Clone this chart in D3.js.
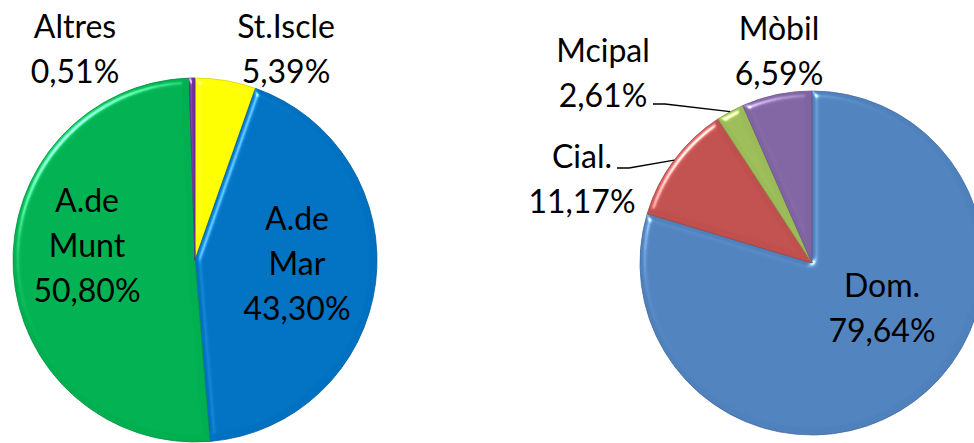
<!DOCTYPE html>
<html>
<head>
<meta charset="utf-8">
<script src="https://cdn.jsdelivr.net/npm/d3@7"></script>
<style>
  body { margin: 0; background: #fff; }
  svg text { font-family: Lato, "Open Sans", sans-serif; font-size: 32px; fill: #000; }
</style>
</head>
<body>
<svg id="chart" width="974" height="443"></svg>
<script>
// left pie: towns
var townNames = ["St.Iscle", "A.de Mar", "A.de Munt", "Altres"];
var townValues = [5.39, 43.30, 50.80, 0.51];
var townLabels = ["5,39%", "43,30%", "50,80%", "0,51%"];
var townColors = ["#ffff00", "#0070c0", "#00b050", "#7030a0"];

// right pie: usage type
var useNames = ["Dom.", "Cial.", "Mcipal", "Mòbil"];
var useValues = [79.64, 11.17, 2.61, 6.59];
var useLabels = ["79,64%", "11,17%", "2,61%", "6,59%"];
var useColors = ["#4f81bd", "#c0504d", "#9bbb59", "#8064a2"];

var svg = d3.select("#chart");

// bevel-ish lighting like the office "soft round" effect
var defs = svg.append("defs");
var f = defs.append("filter").attr("id", "bevel")
    .attr("color-interpolation-filters", "sRGB")
    .attr("x", "-5%").attr("y", "-5%").attr("width", "110%").attr("height", "110%");
f.append("feGaussianBlur").attr("in", "SourceAlpha").attr("stdDeviation", 3).attr("result", "blur");
f.append("feSpecularLighting").attr("in", "blur").attr("surfaceScale", 4)
    .attr("specularConstant", 0.7).attr("specularExponent", 40)
    .attr("lighting-color", "#ffffff").attr("result", "spec")
  .append("feDistantLight").attr("azimuth", 225).attr("elevation", 40);
f.append("feComposite").attr("in", "spec").attr("in2", "SourceAlpha").attr("operator", "in").attr("result", "specIn");
f.append("feComposite").attr("in", "SourceGraphic").attr("in2", "specIn")
    .attr("operator", "arithmetic").attr("k1", 0).attr("k2", 1).attr("k3", 1).attr("k4", 0);

var pie = d3.pie().sort(null).value(function(d){ return d; });

function drawPie(cx, cy, r, names, values, labels, colors, labelPos, leaders) {
    var g = svg.append("g").attr("transform", "translate(" + cx + "," + cy + ")");
    var arc = d3.arc().innerRadius(0).outerRadius(r);
    var arcs = pie(values);

    g.selectAll("path.slice")
        .data(arcs)
        .enter()
        .append("path")
        .attr("class", "slice")
        .attr("d", arc)
        .attr("fill", function(d, i){ return colors[i]; })
        .attr("stroke", function(d, i){ return d3.color(colors[i]).darker(0.5); })
        .attr("stroke-width", 0.8)
        .attr("filter", "url(#bevel)");

    // leader lines (from the label to the middle of the slice edge)
    arcs.forEach(function(d, i) {
        if (!leaders[i]) return;
        var mid = (d.startAngle + d.endAngle) / 2;
        var ex = Math.sin(mid) * r, ey = -Math.cos(mid) * r;
        var s = leaders[i];
        g.append("path")
            .attr("d", d3.line()([[s[0], s[1]], [s[0] + 12, s[1]], [ex, ey]]))
            .attr("fill", "none")
            .attr("stroke", "#000")
            .attr("stroke-width", 1.3);
    });

    arcs.forEach(function(d, i) {
        var lines = names[i].split(" ").concat([labels[i]]);
        var p = labelPos[i];
        var t = g.append("text")
            .attr("text-anchor", "middle")
            .attr("x", p[0])
            .attr("y", p[1]);
        lines.forEach(function(l, k) {
            t.append("tspan").attr("x", p[0]).attr("dy", k === 0 ? 0 : 45).text(l);
        });
    });
}

// label anchors (first baseline) relative to each pie centre
drawPie(195, 260, 182, townNames, townValues, townLabels, townColors,
    [[91, -222], [102, -30], [-108, -48], [-120, -222]],
    [null, null, null, null]);

drawPie(812, 263, 172, useNames, useValues, useLabels, useColors,
    [[70, 34], [-230, -95], [-209, -201], [-33, -223]],
    [null, [-195, -95], [-159, -159], null]);
</script>
</body>
</html>
